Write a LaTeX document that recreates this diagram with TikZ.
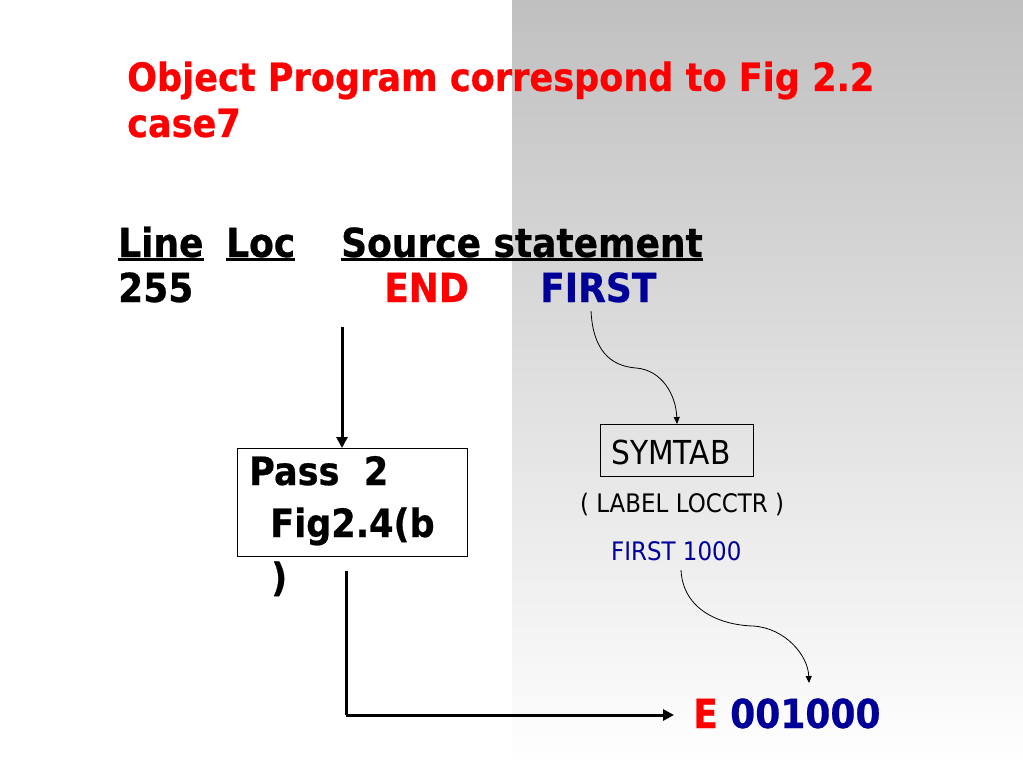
\documentclass[tikz,border=0pt]{standalone}
\usepackage{fontspec}
\setmainfont{DejaVu Sans}[FakeStretch=0.9, BoldFeatures={FakeBold=0.6}]
\usetikzlibrary{arrows.meta}
\definecolor{titlered}{RGB}{255,0,0}
\definecolor{symblue}{RGB}{0,0,153}
\definecolor{bggray}{RGB}{192,192,192}
\newcommand\hdrul[1]{\setbox0\hbox{#1}\rlap{\rule[-4pt]{\wd0}{3pt}}\box0}
\begin{document}
\begin{tikzpicture}[x=1pt, y=-1pt,
    every node/.style={inner sep=0pt, anchor=base west},
    bigtext/.style={font=\fontsize{40}{46}\selectfont\bfseries},
    titletext/.style={font=\fontsize{39}{44}\selectfont\bfseries, text=titlered},
    passtext/.style={font=\fontsize{39}{44}\selectfont\bfseries},
    smalltext/.style={font=\fontsize{25.5}{30}\selectfont},
    thickarrow/.style={line width=3pt, -{Triangle[length=11pt, width=11pt]}},
    thinarrow/.style={line width=0.8pt, -{Triangle[length=7pt, width=6pt]}}]
  \useasboundingbox (0,0) rectangle (1023,768);
  \fill[white] (0,0) rectangle (1023,768);
  \shade[top color=bggray, bottom color=white] (512,0) rectangle (1023,768);

  \node[titletext] (title1) at (127,91) {Object Program correspond to Fig 2.2};
  \node[titletext] (title2) at (127,137) {case7};

  \node[bigtext] (line) at (118,257) {\hdrul{Line}};
  \node[bigtext] (loc) at (226,257) {\hdrul{Loc}};
  \node[bigtext] (source) at (341,257) {\hdrul{Source statement}};
  \node[bigtext] (num) at (118,302) {255};
  \node[bigtext, text=titlered] (end) at (384,302) {END};
  \node[bigtext, text=symblue] (first) at (540,302) {FIRST};

  \node[draw, line width=1pt, anchor=north west, minimum width=230pt, minimum height=108pt] (pass) at (237,448) {};
  \node[passtext] (pass1) at (249,485) {Pass\ \ 2};
  \node[passtext] (pass2) at (270,537) {Fig2.4(b};
  \node[passtext] (pass3) at (271,591) {)};

  \node[draw, line width=1pt, anchor=north west, minimum width=153pt, minimum height=52pt] (symtab) at (600,424) {};
  \node[font=\fontsize{33}{38}\selectfont] (symname) at (611,464) {SYMTAB};
  \node[smalltext] (cols) at (580,512) {( LABEL LOCCTR )};
  \node[smalltext, text=symblue] (entry) at (611,560) {FIRST 1000};

  \node[bigtext, text=titlered] (objE) at (693,728) {E};
  \node[bigtext, text=symblue] (objaddr) at (730,728) {001000};

  \coordinate (bend) at (346,715);
  \draw[thickarrow] (342,327) -- (pass.north -| 342,0);
  \draw[line width=3pt] (346,571) -- (bend);
  \draw[thickarrow] (bend) -- (674,715);

  \draw[thinarrow] (591,311) .. controls (593,350) and (610,366) .. (636,368)
    .. controls (662,370) and (676,395) .. (symtab.north);
  \draw[thinarrow] (681,570) .. controls (683,610) and (720,625) .. (753,626)
    .. controls (785,628) and (808,655) .. (809,683);
\end{tikzpicture}
\end{document}
